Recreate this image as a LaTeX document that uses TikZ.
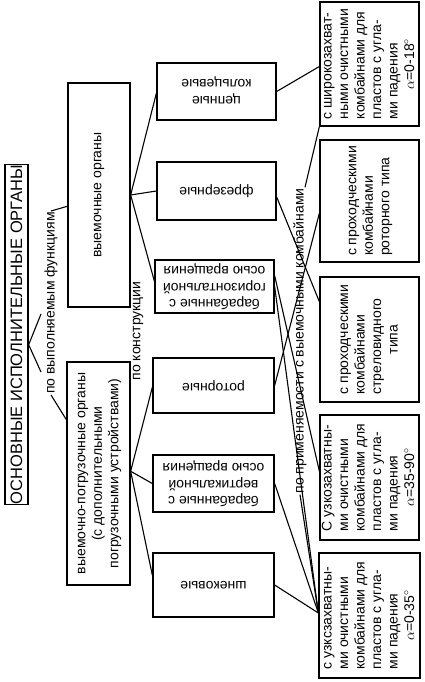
\documentclass[tikz,border=0pt]{standalone}
\usepackage{fontspec}
\usepackage{graphicx}
\setmainfont{Liberation Sans}
\usetikzlibrary{calc}
\tikzset{
  box/.style={draw, line width=1.3pt, inner sep=0pt, font=\fontsize{14}{16.5}\selectfont},
  lbl/.style={inner sep=1pt, font=\fontsize{14}{16.5}\selectfont},
  con/.style={line width=1.1pt},
}
\newcommand{\up}[1]{\rotatebox{90}{#1}}
\newcommand{\dn}[1]{\rotatebox{180}{#1}}
\begin{document}
\begin{tikzpicture}[x=1pt,y=-1pt]
\useasboundingbox (0,0) rectangle (424,682);
% level 0
\node[box, minimum width=23, minimum height=333, font=\fontsize{16.5}{18}\selectfont] (T) at (16.5,334.5) {\up{ОСНОВНЫЕ ИСПОЛНИТЕЛЬНЫЕ ОРГАНЫ}};
% level 1
\node[box, minimum width=62, minimum height=224] (V) at (99,195) {\up{выемочные органы}};
\node[box, minimum width=63, minimum height=223] (VP) at (98.5,473.5) {\up{\begin{tabular}{@{}c@{}}выемочно-погрузочные органы\\(с дополнительными\\погрузочными устройствами)\end{tabular}}};
% level 2
\node[box, minimum width=119, minimum height=57] (B1) at (216.5,91.5) {\dn{\begin{tabular}{@{}c@{}}цепные\\кольцевые\end{tabular}}};
\node[box, minimum width=119, minimum height=58] (B2) at (216.5,191) {\dn{фрезерные}};
\node[box, minimum width=119, minimum height=53] (B3) at (214.5,286.5) {\dn{\begin{tabular}{@{}c@{}}барабанные с\\горизонтальной\\осью вращения\end{tabular}}};
\node[box, minimum width=121, minimum height=55] (B4) at (213.5,385.5) {\dn{роторные}};
\node[box, minimum width=121, minimum height=57] (B5) at (213.5,483.5) {\dn{\begin{tabular}{@{}c@{}}барабанные с\\вертикальной\\осью вращения\end{tabular}}};
\node[box, minimum width=121, minimum height=64] (B6) at (213.5,585) {\dn{шнековые}};
% level 3
\node[box, minimum width=99, minimum height=124] (R1) at (369.5,64) {\up{\begin{tabular}{@{}l@{}}с широкозахват-\\ными очистными\\комбайнами для\\пластов с угла-\\ми падения\\\multicolumn{1}{@{}c@{}}{$\alpha$=0-18$^\circ$}\end{tabular}}};
\node[box, minimum width=99, minimum height=122] (R2) at (369.5,201) {\up{\begin{tabular}{@{}l@{}}с проходческими\\комбайнами\\роторного типа\end{tabular}}};
\node[box, minimum width=99, minimum height=125] (R3) at (369.5,339.5) {\up{\begin{tabular}{@{}l@{}}с проходческими\\комбайнами\\стреловидного\\\multicolumn{1}{@{}c@{}}{типа}\end{tabular}}};
\node[box, minimum width=99, minimum height=125] (R4) at (369.5,477.5) {\up{\begin{tabular}{@{}l@{}}С узкозахватны-\\ми очистными\\комбайнами для\\пластов с угла-\\ми падения\\\multicolumn{1}{@{}c@{}}{$\alpha$=35-90$^\circ$}\end{tabular}}};
\node[box, minimum width=101, minimum height=125] (R5) at (369.5,615.5) {\up{\begin{tabular}{@{}l@{}}с узксзахватны-\\ми очистными\\комбайнами для\\пластов с угла-\\ми падения\\\multicolumn{1}{@{}c@{}}{$\alpha$=0-35$^\circ$}\end{tabular}}};
% labels
\node[lbl] (L1) at (51,303) {\up{по выполняемым функциям}};
\node[lbl] (L2) at (138,331) {\up{по конструкции}};
\node[lbl] (L3) at (300,341) {\up{по применяемости с выемочными комбайнами}};
% connectors level 0-1
\coordinate (wa) at (41,314);
\coordinate (wb) at (41,372);
\draw[con] (wa) -- ($(T.north east)!0.53!(T.south east)$) -- (wb);
\draw[con] ($(V.north west)!0.05!(V.south west)$) ++(0,0) coordinate (va);
\draw[con] ($(V.north west)!0.55!(V.south west)$) -- (L1.north);
\draw[con] (L1.south) -- ($(VP.north west)!0.26!(VP.south west)$);
% level 1-2
\coordinate (vr) at (V.east);
\draw[con] (vr) -- ($(B1.north west)!0.53!(B1.south west)$);
\draw[con] (vr) -- (B2.west);
\draw[con] (vr) -- ($(B3.north west)!0.4!(B3.south west)$);
\coordinate (pr) at ($(VP.north east)!0.49!(VP.south east)$);
\draw[con] (pr) -- ($(B4.north west)!0.53!(B4.south west)$);
\draw[con] (pr) -- (B5.west);
\draw[con] (pr) -- ($(B6.north west)!0.35!(B6.south west)$);
% level 2-3
\coordinate (r5) at ($(R5.north west)!0.48!(R5.south west)$);
\draw[con] (B1.east) -- ($(R1.north west)!0.52!(R1.south west)$);
\draw[con] ($(B2.north east)!0.6!(B2.south east)$) -- ($(R3.north west)!0.2!(R3.south west)$);
\draw[con] ($(B3.north east)!0.3!(B3.south east)$) -- ($(R4.north west)!0.45!(R4.south west)$);
\draw[con] ($(B3.north east)!0.5!(B3.south east)$) -- (r5);
\draw[con] (B4.east) -- ($(R2.north west)!0.6!(R2.south west)$);
\draw[con] (B5.east) -- (r5);
\draw[con] (B6.east) -- (r5);
\draw[con] ([xshift=5pt]L3.north) -- (R1.south west);
\draw[con] (L3.south) -- (r5);
\end{tikzpicture}
\end{document}
